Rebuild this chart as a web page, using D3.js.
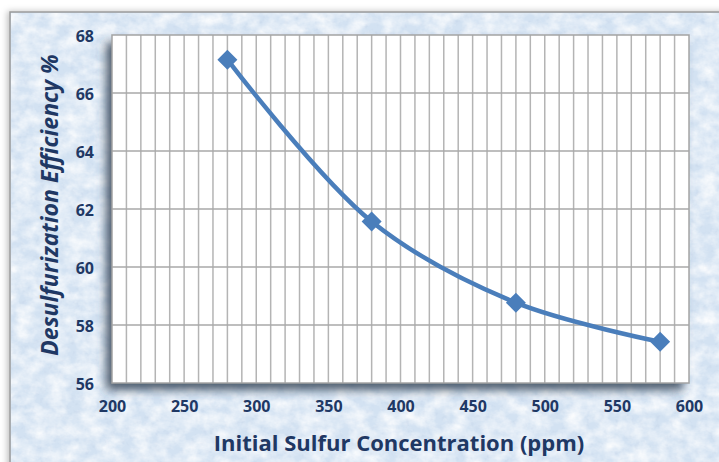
<!DOCTYPE html>
<html>
<head>
<meta charset="utf-8">
<script src="https://cdn.jsdelivr.net/npm/d3@7"></script>
<style>
  html, body { margin: 0; padding: 0; background: #fff; }
  svg { display: block; }
</style>
</head>
<body>
<div id="chart"></div>
<script>
// values
var concentration = [280, 380, 480, 580];
var efficiency = [67.15, 61.57, 58.77, 57.42];
var xTicks = [200, 250, 300, 350, 400, 450, 500, 550, 600];
var yTicks = [56, 58, 60, 62, 64, 66, 68];
var xTitle = "Initial Sulfur Concentration (ppm)";
var yTitle = "Desulfurization Efficiency %";

var W = 719, H = 462;
var margin = {top: 35, right: 30, bottom: 79, left: 112};
var w = W - margin.left - margin.right,
    h = H - margin.top - margin.bottom;

var svg = d3.select("#chart").append("svg")
  .attr("width", W).attr("height", H);

var defs = svg.append("defs");

// paper-like texture for the chart area
var paper = defs.append("filter").attr("id", "paper")
  .attr("x", 0).attr("y", 0).attr("width", 1).attr("height", 1);
paper.append("feTurbulence").attr("type", "fractalNoise")
  .attr("baseFrequency", "0.06 0.08").attr("numOctaves", 4).attr("seed", 3);
paper.append("feColorMatrix").attr("type", "matrix")
  .attr("values", "0 0 0 0 1  0 0 0 0 1  0 0 0 0 1  1.5 0 0 0 -0.45");
paper.append("feComposite").attr("in2", "SourceGraphic").attr("operator", "in");

var speck = defs.append("filter").attr("id", "speck")
  .attr("x", 0).attr("y", 0).attr("width", 1).attr("height", 1);
speck.append("feTurbulence").attr("type", "fractalNoise")
  .attr("baseFrequency", "0.2").attr("numOctaves", 2).attr("seed", 11);
speck.append("feColorMatrix").attr("type", "matrix")
  .attr("values", "0 0 0 0 0.55  0 0 0 0 0.65  0 0 0 0 0.8  0 -1.4 0 0 0.62");
speck.append("feComposite").attr("in2", "SourceGraphic").attr("operator", "in");

var shade = defs.append("filter").attr("id", "shade")
  .attr("x", -0.1).attr("y", -0.1).attr("width", 1.2).attr("height", 1.2);
shade.append("feDropShadow").attr("dx", -6).attr("dy", 7)
  .attr("stdDeviation", 5).attr("flood-color", "#334357").attr("flood-opacity", 0.85);

var frameShade = defs.append("filter").attr("id", "frameShade")
  .attr("x", -0.05).attr("y", -0.05).attr("width", 1.1).attr("height", 1.1);
frameShade.append("feDropShadow").attr("dx", -2).attr("dy", 0)
  .attr("stdDeviation", 3).attr("flood-color", "#000").attr("flood-opacity", 0.25);

// outer frame
svg.append("rect")
  .attr("x", 10).attr("y", 12).attr("width", W).attr("height", H)
  .attr("fill", "#d3e2f2")
  .attr("stroke", "#9a9a9a").attr("stroke-width", 1.5)
  .attr("filter", "url(#frameShade)");
svg.append("rect")
  .attr("x", 11).attr("y", 13).attr("width", W).attr("height", H)
  .attr("fill", "#d3e2f2")
  .attr("filter", "url(#speck)");
svg.append("rect")
  .attr("x", 11).attr("y", 13).attr("width", W).attr("height", H)
  .attr("fill", "#d3e2f2")
  .attr("filter", "url(#paper)");

var x = d3.scaleLinear().domain([200, 600]).range([0, w]);
var y = d3.scaleLinear().domain([56, 68]).range([h, 0]);

var g = svg.append("g")
  .attr("transform", "translate(" + margin.left + "," + margin.top + ")");

// plot area with shadow
g.append("rect")
  .attr("width", w).attr("height", h)
  .attr("fill", "#fff")
  .attr("filter", "url(#shade)");

// grid: vertical every 10, horizontal every 2
g.append("g").attr("class", "xgrid")
  .selectAll("line").data(d3.range(210, 600, 10)).enter().append("line")
  .attr("x1", function(d) { return x(d); })
  .attr("x2", function(d) { return x(d); })
  .attr("y1", 0).attr("y2", h)
  .attr("stroke", "#b4b4b4").attr("stroke-width", 1.5);

g.append("g").attr("class", "ygrid")
  .selectAll("line").data(yTicks.slice(1, -1)).enter().append("line")
  .attr("x1", 0).attr("x2", w)
  .attr("y1", function(d) { return y(d); })
  .attr("y2", function(d) { return y(d); })
  .attr("stroke", "#a8a8a8").attr("stroke-width", 1.5);

g.append("rect")
  .attr("width", w).attr("height", h)
  .attr("fill", "none")
  .attr("stroke", "#a4a4a4").attr("stroke-width", 1.5);

// axes (labels only)
var font = "'Open Sans', 'Noto Sans', sans-serif";
var navy = "#1f3864";

var xAxis = g.append("g")
  .attr("transform", "translate(0," + h + ")")
  .call(d3.axisBottom(x).tickValues(xTicks).tickSize(0).tickPadding(18));
var yAxis = g.append("g")
  .call(d3.axisLeft(y).tickValues(yTicks).tickSize(0).tickPadding(18));

[xAxis, yAxis].forEach(function(a) {
  a.select(".domain").remove();
  a.selectAll("text")
    .attr("font-family", font)
    .attr("font-size", "16px")
    .attr("font-weight", "bold")
    .attr("fill", navy);
});
yAxis.selectAll("text").attr("dy", "0.42em");

// series line, smoothed like the spreadsheet
var line = d3.line()
  .x(function(d, i) { return x(concentration[i]); })
  .y(function(d) { return y(d); })
  .curve(d3.curveCatmullRom.alpha(0.5));

g.append("path")
  .datum(efficiency)
  .attr("d", line)
  .attr("fill", "none")
  .attr("stroke", "#4a7ebb")
  .attr("stroke-width", 4.5)
  .attr("stroke-linejoin", "round");

g.selectAll(".marker").data(efficiency).enter().append("path")
  .attr("class", "marker")
  .attr("d", d3.symbol(d3.symbolSquare, 200))
  .attr("transform", function(d, i) {
    return "translate(" + x(concentration[i]) + "," + y(d) + ") rotate(45)";
  })
  .attr("fill", "#4a7ebb");

// titles
svg.append("text")
  .attr("x", 399)
  .attr("y", 451)
  .attr("text-anchor", "middle")
  .attr("font-family", font)
  .attr("font-size", "22px")
  .attr("font-weight", "bold")
  .attr("fill", navy)
  .text(xTitle);

svg.append("text")
  .attr("transform", "translate(58,205) rotate(-90)")
  .attr("text-anchor", "middle")
  .attr("font-family", font)
  .attr("font-size", "23px")
  .attr("font-weight", "bold")
  .attr("font-style", "italic")
  .attr("fill", navy)
  .text(yTitle);
</script>
</body>
</html>
